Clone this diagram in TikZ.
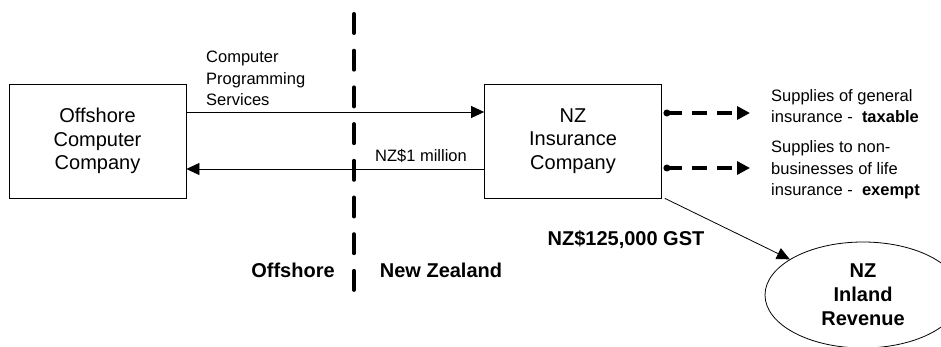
\documentclass[tikz,border=0pt]{standalone}
\usepackage{fontspec}
\setmainfont{Liberation Sans}
\usetikzlibrary{arrows.meta,shapes.geometric}

\tikzset{
  company/.style={draw, line width=0.8pt, minimum width=177pt, minimum height=114pt,
    align=center, inner sep=0pt, font=\fontsize{20}{23.5}\selectfont},
  office/.style={draw, ellipse, line width=0.8pt, minimum width=196pt, minimum height=106pt,
    align=center, inner sep=0pt, font=\fontsize{20}{24}\selectfont\bfseries},
  flow/.style={line width=0.8pt, -{Triangle[length=13pt,width=12pt]}},
  supply/.style={line width=4pt, dash pattern=on 15pt off 10pt,
    -{Triangle[length=13pt,width=13pt]}},
  supply dot/.style={fill=black},
  border line/.style={line width=4pt, line cap=round, dash pattern=on 19pt off 17.7pt},
  small label/.style={inner sep=0pt, align=left, font=\fontsize{16.5}{21.5}\selectfont},
  big label/.style={inner sep=0pt, font=\fontsize{20}{24}\selectfont\bfseries}
}

\begin{document}
\begin{tikzpicture}[x=1pt, y=-1pt]
  \useasboundingbox (0,0) rectangle (941,347);

  % the two companies and the tax office
  \node[company] (oc) at (97.5,141) {Offshore\\Computer\\Company};
  \node[company] (nz) at (573,141) {NZ\\Insurance\\Company};
  \node[office]  (ir) at (863,295) {NZ\\Inland\\Revenue};

  % border between offshore and New Zealand
  \coordinate (bordertop) at (354,14);
  \coordinate (borderbot) at (354,291);
  \draw[border line] (bordertop) -- (borderbot);

  % services one way, payment the other
  \draw[flow] (oc.east |- 0,112) -- (nz.west |- 0,112);
  \draw[flow] (nz.west |- 0,169) -- (oc.east |- 0,169);
  \node[small label, anchor=south west] (svc) at (206,106)
    {Computer\\Programming\\Services};
  \node[small label] (pay) at (421,156) {NZ\$1 million};

  % onward supplies, each starting from a dot on the company box
  \coordinate (gentip) at (750,113);
  \coordinate (lifetip) at (750,168);
  \coordinate (genfoot) at ([xshift=5pt]nz.east |- gentip);
  \coordinate (lifefoot) at ([xshift=5pt]nz.east |- lifetip);
  \fill[supply dot] (genfoot) circle (3.5pt);
  \fill[supply dot] (lifefoot) circle (3.5pt);
  \draw[supply] (genfoot) -- (gentip);
  \draw[supply] (lifefoot) -- (lifetip);
  \node[small label, anchor=west] (gen) at (771,106)
    {Supplies of general\\insurance - ~\textbf{taxable}};
  \node[small label, anchor=west] (life) at (771,170)
    {Supplies to non-\\businesses of life\\insurance - ~\textbf{exempt}};

  % GST to Inland Revenue
  \draw[flow] ([xshift=3pt]nz.south east) -- (ir);
  \node[big label] (gst) at (626,240) {NZ\$125,000 GST};

  % side labels
  \node[big label] (off) at (293,270) {Offshore};
  \node[big label] (nzl) at (441,270) {New Zealand};
\end{tikzpicture}
\end{document}
